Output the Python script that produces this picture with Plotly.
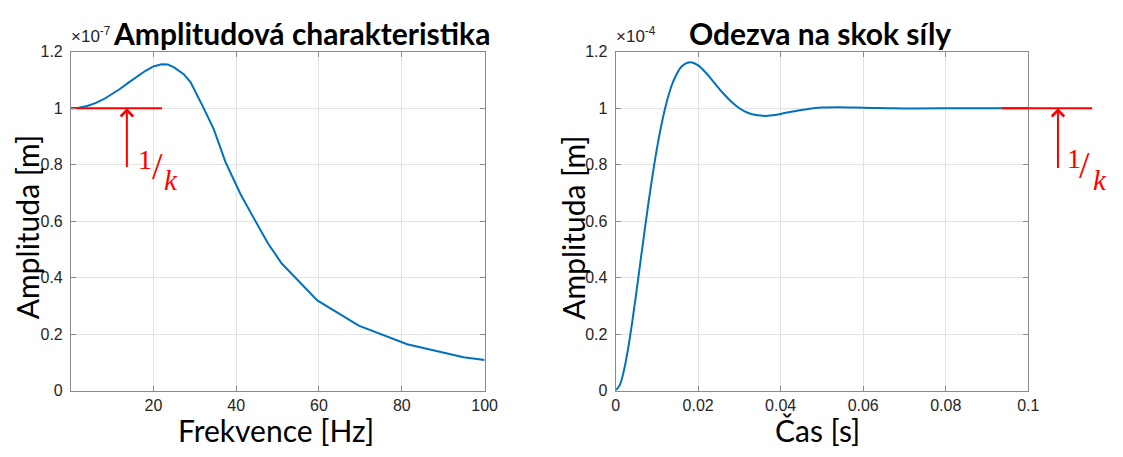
import plotly.graph_objects as go

# ---------------- data ----------------
freq_hz = [0.1, 2.0, 4.0, 6.0, 8.0, 10.0, 12.0, 14.0, 16.0, 18.0, 20.0, 22.0, 23.5,
           25.0, 27.4, 29.0, 32.0, 34.6, 37.4, 41.0, 43.7, 47.7, 51.0, 59.6, 69.6,
           81.3, 94.9, 100.0]
amp_e7 = [1.000, 1.002, 1.008, 1.018, 1.032, 1.050, 1.069, 1.091, 1.112, 1.132, 1.148,
          1.156, 1.155, 1.145, 1.120, 1.092, 1.005, 0.925, 0.810, 0.697, 0.625, 0.521,
          0.450, 0.319, 0.230, 0.164, 0.118, 0.108]

time_s = [0, 0.001, 0.002, 0.003, 0.004, 0.005, 0.006, 0.007, 0.008, 0.009, 0.010,
          0.011, 0.012, 0.013, 0.014, 0.016, 0.018, 0.020, 0.022, 0.024, 0.026, 0.028,
          0.030, 0.032, 0.034, 0.036, 0.038, 0.040, 0.042, 0.044, 0.046, 0.048, 0.050,
          0.054, 0.058, 0.062, 0.066, 0.072, 0.080, 0.090, 0.100]
step_e4 = [0, 0.019, 0.070, 0.146, 0.240, 0.344, 0.454, 0.563, 0.669, 0.767, 0.856,
           0.934, 1.000, 1.054, 1.096, 1.148, 1.163, 1.152, 1.124, 1.089, 1.054, 1.024,
           1.000, 0.984, 0.976, 0.973, 0.975, 0.980, 0.986, 0.991, 0.996, 1.000, 1.003,
           1.004, 1.003, 1.001, 1.000, 0.999, 1.000, 1.000, 1.000]

inv_k = 1.0
left_ref_x = [0.1, 22.1]
left_arrow_x, left_arrow_tail = 13.6, 0.787
right_ref_x = [0.0936, 0.1155]
right_arrow_x, right_arrow_tail = 0.1072, 0.783

y_ticks = [0, 0.2, 0.4, 0.6, 0.8, 1.0, 1.2]
y_ticktext = ["0", "0.2", "0.4", "0.6", "0.8", "1", "1.2"]

# ---------------- layout geometry ----------------
W, H = 1123, 457
L1 = (68, 488)
L2 = (621, 1040)
YT, YB = 45.5, 397.3
ydom = [(H - YB) / H, (H - YT) / H]
x3_max = 0.1 * (W - L2[0]) / (L2[1] - L2[0])

BLUE = "#0072BD"
RED = "#FF0000"
AX = "#8a8a8a"
GRID = "#e3e3e3"
TICKFONT = dict(family="Liberation Sans, Arial", size=16, color="#262626")
LABFONT = dict(family="Lato, Open Sans", size=30, color="black")
TITLEFONT = dict(family="Lato, Open Sans", size=30, color="black")
MATHFONT = "Liberation Serif, DejaVu Serif"

fig = go.Figure()
fig.add_trace(go.Scatter(x=freq_hz, y=amp_e7, mode="lines",
                         line=dict(color=BLUE, width=2), xaxis="x", yaxis="y"))
fig.add_trace(go.Scatter(x=left_ref_x, y=[inv_k, inv_k], mode="lines",
                         line=dict(color=RED, width=2), xaxis="x", yaxis="y"))
fig.add_trace(go.Scatter(x=time_s, y=step_e4, mode="lines", line_shape="spline",
                         line=dict(color=BLUE, width=2), xaxis="x2", yaxis="y2"))
fig.add_trace(go.Scatter(x=right_ref_x, y=[inv_k, inv_k], mode="lines",
                         line=dict(color=RED, width=2), xaxis="x3", yaxis="y3"))

common_ax = dict(showline=True, linecolor=AX, linewidth=1, mirror="ticks",
                 ticks="inside", ticklen=5, tickcolor=AX, showgrid=True,
                 gridcolor=GRID, gridwidth=1, zeroline=False, tickfont=TICKFONT)

fig.update_layout(
    width=W, height=H, margin=dict(l=0, r=0, t=0, b=0),
    paper_bgcolor="white", plot_bgcolor="rgba(0,0,0,0)", showlegend=False,
    xaxis=dict(domain=[L1[0] / W, L1[1] / W], range=[0.1, 100],
               tickvals=[20, 40, 60, 80, 100], anchor="y", **common_ax),
    yaxis=dict(domain=ydom, range=[0, 1.2], tickvals=y_ticks, ticktext=y_ticktext,
               anchor="x", ticklabelstandoff=4, **common_ax),
    xaxis2=dict(domain=[L2[0] / W, L2[1] / W], range=[0, 0.1],
                tickvals=[0, 0.02, 0.04, 0.06, 0.08, 0.1],
                ticktext=["0", "0.02", "0.04", "0.06", "0.08", "0.1"],
                anchor="y2", **common_ax),
    yaxis2=dict(domain=ydom, range=[0, 1.2], tickvals=y_ticks, ticktext=y_ticktext,
                anchor="x2", ticklabelstandoff=4, **common_ax),
    xaxis3=dict(domain=[L2[0] / W, 1.0], range=[0, x3_max], visible=False,
                anchor="y3", showgrid=False),
    yaxis3=dict(domain=ydom, range=[0, 1.2], visible=False, anchor="x3",
                showgrid=False),
)

ann = []
# titles
ann.append(dict(text="<b>Amplitudová charakteristika</b>", xref="paper", yref="paper",
                x=302 / W, y=(H - 26) / H, xanchor="center", yanchor="middle",
                showarrow=False, font=TITLEFONT))
ann.append(dict(text="<b>Odezva na skok síly</b>", xref="paper", yref="paper",
                x=829 / W, y=(H - 26) / H, xanchor="center", yanchor="middle",
                showarrow=False, font=TITLEFONT))
# exponent labels
for x0, e in [(L1[0], "-7"), (L2[0], "-4")]:
    ann.append(dict(text="×10<sup>" + e + "</sup>", xref="paper", yref="paper",
                    x=(x0 - 2) / W, y=(H - 42) / H, xanchor="left", yanchor="bottom",
                    showarrow=False,
                    font=dict(family="Liberation Sans, Arial", size=17, color="#262626")))
# axis titles
ann.append(dict(text="Frekvence [Hz]", xref="paper", yref="paper", x=276 / W,
                y=(H - 438) / H, xanchor="center", yanchor="middle", showarrow=False,
                font=LABFONT))
ann.append(dict(text="Čas [s]", xref="paper", yref="paper", x=826 / W,
                y=(H - 438) / H, xanchor="center", yanchor="middle", showarrow=False,
                font=LABFONT))
for xc in (23, 577):
    ann.append(dict(text="Amplituda [m]", xref="paper", yref="paper", x=xc / W,
                    y=(H - 228) / H, xanchor="center", yanchor="middle",
                    showarrow=False, textangle=-90, font=LABFONT))
# arrows
ann.append(dict(x=left_arrow_x, y=inv_k, ax=left_arrow_x, ay=left_arrow_tail,
                xref="x", yref="y", axref="x", ayref="y", text="", showarrow=True,
                arrowhead=4, arrowsize=1.2, arrowwidth=2, arrowcolor=RED, standoff=0))
ann.append(dict(x=right_arrow_x, y=inv_k, ax=right_arrow_x, ay=right_arrow_tail,
                xref="x3", yref="y3", axref="x3", ayref="y3", text="", showarrow=True,
                arrowhead=4, arrowsize=1.2, arrowwidth=2, arrowcolor=RED, standoff=0))


# 1/k labels
def onek(xr, yr, x1, y1, xs, ys, xk, yk):
    ann.append(dict(text="1", xref=xr, yref=yr, x=x1, y=y1, showarrow=False,
                    xanchor="center", yanchor="middle",
                    font=dict(family=MATHFONT, size=28, color=RED)))
    ann.append(dict(text="/", xref=xr, yref=yr, x=xs, y=ys, showarrow=False,
                    xanchor="center", yanchor="middle",
                    font=dict(family=MATHFONT, size=38, color=RED)))
    ann.append(dict(text="<i>k</i>", xref=xr, yref=yr, x=xk, y=yk, showarrow=False,
                    xanchor="center", yanchor="middle",
                    font=dict(family=MATHFONT, size=29, color=RED)))


onek("x", "y", 17.9, 0.82, 20.9, 0.795, 24.3, 0.745)
onek("x3", "y3", 0.1112, 0.823, 0.1136, 0.8, 0.1173, 0.745)
fig.update_layout(annotations=ann)

fig.write_html("out.html")
